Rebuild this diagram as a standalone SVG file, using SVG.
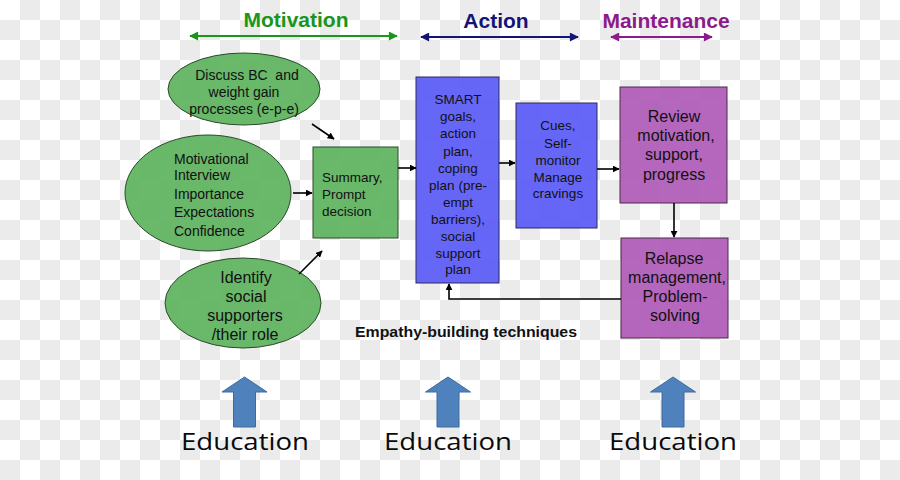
<svg xmlns="http://www.w3.org/2000/svg" width="900" height="480" viewBox="0 0 900 480">
<defs>
<pattern id="checker" width="40" height="40" patternUnits="userSpaceOnUse">
<rect width="40" height="40" fill="#ffffff"/>
<rect x="20" y="0" width="20" height="20" fill="#ebebeb"/>
<rect x="0" y="20" width="20" height="20" fill="#ebebeb"/>
</pattern>
<marker id="ah" viewBox="0 0 10 10" refX="9" refY="5" markerWidth="7" markerHeight="7" orient="auto-start-reverse" markerUnits="userSpaceOnUse">
<path d="M0,0 L10,5 L0,10 Z" fill="#000"/>
</marker>
<marker id="ahG" viewBox="0 0 10 10" refX="9" refY="5" markerWidth="10" markerHeight="9" orient="auto-start-reverse" markerUnits="userSpaceOnUse">
<path d="M0,0 L10,5 L0,10 Z" fill="#1a961a"/>
</marker>
<marker id="ahB" viewBox="0 0 10 10" refX="9" refY="5" markerWidth="10" markerHeight="9" orient="auto-start-reverse" markerUnits="userSpaceOnUse">
<path d="M0,0 L10,5 L0,10 Z" fill="#141478"/>
</marker>
<marker id="ahP" viewBox="0 0 10 10" refX="9" refY="5" markerWidth="10" markerHeight="9" orient="auto-start-reverse" markerUnits="userSpaceOnUse">
<path d="M0,0 L10,5 L0,10 Z" fill="#8c1a8c"/>
</marker>
<path id="blockArrow" d="M0,-50 L22.5,-35 L11,-35 L11,0 L-11,0 L-11,-35 L-22.5,-35 Z"/>
</defs>
<style>
text { font-family: "Liberation Sans", Arial, sans-serif; fill: #111; }
.t { font-size: 13.5px; text-anchor: middle; }
.tl { font-size: 13.5px; }
.t16 { font-size: 16px; text-anchor: middle; }
.head { font-size: 21px; font-weight: bold; text-anchor: middle; }
.ell { fill: #5fb35f; fill-opacity: 0.93; stroke: #2a4a2a; stroke-width: 1; }
.gbox { fill: #5fb35f; fill-opacity: 0.93; stroke: #2a4a2a; stroke-width: 1; }
.bbox { fill: #5f5ff7; fill-opacity: 0.95; stroke: #2a2a60; stroke-width: 1; }
.pbox { fill: #b05fb8; fill-opacity: 0.95; stroke: #4a2a4a; stroke-width: 1; }
.con { stroke: #000; stroke-width: 1.6; fill: none; marker-end: url(#ah); }
.edu { font-family: "Open Sans", "Liberation Sans", sans-serif; font-size: 23px; text-anchor: middle; fill: #0a0a0a; }
.barrow { fill: #4f81bd; stroke: #3a6aa0; stroke-width: 1; }
</style>
<rect width="900" height="480" fill="url(#checker)"/>

<g id="headers">
<text class="head" x="296" y="27" style="fill:#1a961a">Motivation</text>
<line x1="190" y1="36" x2="397" y2="36" stroke="#1a961a" stroke-width="2" marker-start="url(#ahG)" marker-end="url(#ahG)"/>
<text class="head" x="496" y="28" style="fill:#141478">Action</text>
<line x1="421" y1="37" x2="578" y2="37" stroke="#141478" stroke-width="2" marker-start="url(#ahB)" marker-end="url(#ahB)"/>
<text class="head" x="666" y="28" style="fill:#8c1a8c">Maintenance</text>
<line x1="611" y1="37" x2="712" y2="37" stroke="#8c1a8c" stroke-width="2" marker-start="url(#ahP)" marker-end="url(#ahP)"/>
</g>

<g id="discuss">
<ellipse class="ell" cx="244" cy="89" rx="76" ry="36"/>
<text class="t" style="font-size:14px" x="247" y="80">Discuss BC&#160; and</text>
<text class="t" style="font-size:14px" x="244" y="97">weight gain</text>
<text class="t" style="font-size:14px" x="244" y="114">processes (e-p-e)</text>
</g>

<g id="motivational">
<ellipse class="ell" cx="208" cy="193" rx="83" ry="58"/>
<text class="tl" style="font-size:14px" x="174" y="164">Motivational</text>
<text class="tl" style="font-size:14px" x="174" y="180">Interview</text>
<text class="tl" style="font-size:14px" x="174" y="199">Importance</text>
<text class="tl" style="font-size:14px" x="174" y="217">Expectations</text>
<text class="tl" style="font-size:14px" x="174" y="236">Confidence</text>
</g>

<g id="identify">
<ellipse class="ell" cx="243" cy="303" rx="78" ry="45"/>
<text class="t16" x="246" y="283">Identify</text>
<text class="t16" x="246" y="302">social</text>
<text class="t16" x="245" y="321">supporters</text>
<text class="t16" x="245" y="340">/their role</text>
</g>

<g id="summary">
<rect class="gbox" x="313" y="147" width="85" height="91"/>
<text class="tl" x="322" y="182">Summary,</text>
<text class="tl" x="322" y="199">Prompt</text>
<text class="tl" x="322" y="216">decision</text>
</g>

<g id="smart">
<rect class="bbox" x="416" y="77" width="83" height="206"/>
<text class="t" x="458" y="104">SMART</text>
<text class="t" x="458" y="121">goals,</text>
<text class="t" x="458" y="138">action</text>
<text class="t" x="458" y="156">plan,</text>
<text class="t" x="458" y="173">coping</text>
<text class="t" x="458" y="190">plan (pre-</text>
<text class="t" x="458" y="207">empt</text>
<text class="t" x="458" y="224">barriers),</text>
<text class="t" x="458" y="241">social</text>
<text class="t" x="458" y="258">support</text>
<text class="t" x="458" y="274">plan</text>
</g>

<g id="cues">
<rect class="bbox" x="516" y="103" width="81" height="125"/>
<text class="t" x="558" y="130">Cues,</text>
<text class="t" x="558" y="148">Self-</text>
<text class="t" x="558" y="165">monitor</text>
<text class="t" x="558" y="182">Manage</text>
<text class="t" x="558" y="198">cravings</text>
</g>

<g id="review">
<rect class="pbox" x="620" y="87" width="107" height="116"/>
<text class="t16" x="674" y="122">Review</text>
<text class="t16" x="676" y="141">motivation,</text>
<text class="t16" x="674" y="160">support,</text>
<text class="t16" x="674" y="180">progress</text>
</g>

<g id="relapse">
<rect class="pbox" x="621" y="238" width="107" height="100"/>
<text class="t16" x="674" y="264">Relapse</text>
<text class="t16" x="677" y="283">management,</text>
<text class="t16" x="675" y="302">Problem-</text>
<text class="t16" x="675" y="321">solving</text>
</g>

<g id="connectors">
<line class="con" x1="312" y1="124" x2="334" y2="139"/>
<line class="con" x1="293" y1="193" x2="312" y2="193"/>
<line class="con" x1="299" y1="274" x2="322" y2="251"/>
<line class="con" x1="398" y1="168" x2="416" y2="168"/>
<line class="con" x1="499" y1="163" x2="515" y2="163"/>
<line class="con" x1="597" y1="169" x2="619" y2="169"/>
<line class="con" x1="674" y1="203" x2="674" y2="237"/>
<polyline class="con" points="621,299 449,299 449,284"/>
</g>

<g id="empathy">
<text x="466" y="337" style="font-size:15.5px;font-weight:bold;text-anchor:middle" textLength="222" lengthAdjust="spacingAndGlyphs">Empathy-building techniques</text>
</g>

<g id="education1">
<use href="#blockArrow" class="barrow" x="244.5" y="427"/>
<text class="edu" x="245" y="450" textLength="128" lengthAdjust="spacingAndGlyphs">Education</text>
</g>
<g id="education2">
<use href="#blockArrow" class="barrow" x="448" y="427"/>
<text class="edu" x="448" y="450" textLength="128" lengthAdjust="spacingAndGlyphs">Education</text>
</g>
<g id="education3">
<use href="#blockArrow" class="barrow" x="673" y="427"/>
<text class="edu" x="673" y="450" textLength="128" lengthAdjust="spacingAndGlyphs">Education</text>
</g>
</svg>
